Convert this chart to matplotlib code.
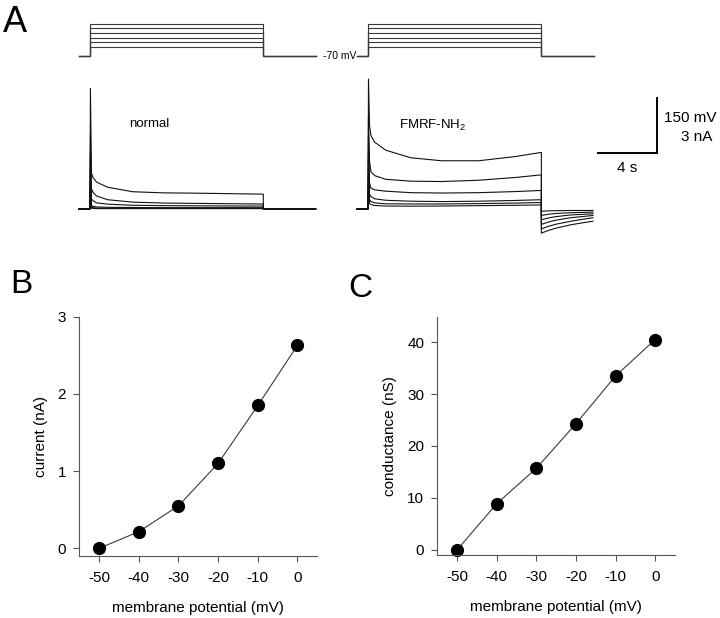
import numpy as np
import matplotlib
matplotlib.use("Agg")
import matplotlib.pyplot as plt

plt.rcParams['font.family'] = ['Liberation Sans', 'DejaVu Sans']
plt.rcParams['mathtext.fontset'] = 'custom'
plt.rcParams['mathtext.rm'] = 'Liberation Sans'
plt.rcParams['mathtext.default'] = 'regular'
plt.rcParams['axes.unicode_minus'] = False

INK, GREY = '#111111', '#3a3a3a'

# --- panel A: voltage protocol (mV) ---
HOLD = -70
STEPS = [-50, -40, -30, -20, -10, 0]
PRE, DUR, POST = 0.75, 11.75, 3.55          # s before / during / after the step
OFFSET_R = 18.85                            # s, where the second recording is drawn

# current traces (nA), sampled during the step
T_STEP = [0, 0.03, 0.1, 0.2, 0.45, 1.2, 2.9, 5.0, 7.5, 10.0, 11.75]
NORMAL = [
    [0, 6.5, 1.94, 1.70, 1.45, 1.17, 0.93, 0.87, 0.85, 0.82, 0.80],
    [0, 4.0, 1.10, 0.90, 0.70, 0.50, 0.37, 0.32, 0.30, 0.28, 0.27],
    [0, 3.0, 0.55, 0.45, 0.33, 0.26, 0.20, 0.18, 0.17, 0.16, 0.16],
    [0, 2.0, 0.20, 0.14, 0.11, 0.09, 0.08, 0.07, 0.07, 0.07, 0.07],
    [0, 1.5, 0.10, 0.07, 0.05, 0.04, 0.04, 0.04, 0.04, 0.04, 0.04],
    [0, 1.0, 0.05, 0.03, 0.02, 0.02, 0.02, 0.02, 0.02, 0.02, 0.02],
]
FMRF = [
    [0, 7.0, 4.50, 3.95, 3.60, 3.17, 2.76, 2.60, 2.60, 2.83, 3.05],
    [0, 5.0, 2.60, 2.00, 1.80, 1.60, 1.50, 1.48, 1.55, 1.70, 1.84],
    [0, 4.0, 1.40, 1.12, 1.03, 0.96, 0.88, 0.86, 0.88, 0.94, 1.00],
    [0, 3.0, 0.80, 0.67, 0.55, 0.47, 0.42, 0.40, 0.42, 0.46, 0.50],
    [0, 2.0, 0.50, 0.40, 0.33, 0.28, 0.27, 0.27, 0.29, 0.32, 0.35],
    [0, 1.5, 0.30, 0.24, 0.19, 0.16, 0.15, 0.16, 0.18, 0.20, 0.22],
]
# tail currents after the step (nA)
T_TAIL = [0, 0.5, 1.0, 2.0, 3.0, 3.5]
FMRF_TAIL = [
    [-1.30, -1.15, -1.03, -0.85, -0.72, -0.66],
    [-1.07, -0.93, -0.82, -0.66, -0.53, -0.47],
    [-0.83, -0.70, -0.60, -0.47, -0.39, -0.35],
    [-0.58, -0.48, -0.41, -0.32, -0.28, -0.26],
    [-0.35, -0.28, -0.24, -0.20, -0.18, -0.17],
    [-0.12, -0.10, -0.09, -0.08, -0.08, -0.08],
]

# --- panels B and C ---
VM = [-50, -40, -30, -20, -10, 0]
CURRENT = [0.0, 0.215, 0.55, 1.10, 1.85, 2.63]
CONDUCT = [0.0, 8.9, 15.7, 24.3, 33.5, 40.5]

fig = plt.figure(figsize=(7.2, 6.18), dpi=100, facecolor='white')
rectA = [0.0833, 0.6117, 0.9167, 0.3803]
axI = fig.add_axes(rectA)
axV = fig.add_axes(rectA)
for a in (axI, axV):
    a.set_xlim(-2.034, 42.71)
    a.axis('off')
axI.set_ylim(-1.67, 11.0)
axV.set_ylim(-460.4, 39.6)

# voltage protocol
for off in (0, OFFSET_R):
    for v in STEPS:
        t = np.array([-PRE, 0, 0, DUR, DUR, DUR + POST]) + off
        axV.plot(t, [HOLD, HOLD, v, v, HOLD, HOLD], color=GREY, lw=0.8)
axV.text(16.95, HOLD, "-70 mV", ha='center', va='center', fontsize=7.5)

# current traces
for tr in NORMAL:
    t = [-PRE] + T_STEP + [DUR, DUR + POST]
    axI.plot(t, [0] + tr + [0, 0], color=INK, lw=0.8)
for tr, tail in zip(FMRF, FMRF_TAIL):
    t = np.array([-PRE] + T_STEP + [DUR + x for x in T_TAIL]) + OFFSET_R
    axI.plot(t, [0] + tr + tail, color=INK, lw=0.8)

axI.text(2.64, 4.58, "normal", ha='left', va='center', fontsize=9.5)
axI.text(20.95, 4.53, "FMRF-NH$_2$", ha='left', va='center', fontsize=9.5)

# scale bar: 4 s / 3 nA (150 mV)
axI.plot([34.44, 38.44, 38.44], [3.0, 3.0, 6.0], color='black', lw=1.4,
         solid_joinstyle='miter')
axI.text(42.5, 4.9, "150 mV", ha='right', va='center', fontsize=11)
axI.text(42.2, 3.88, "3 nA", ha='right', va='center', fontsize=11)
axI.text(36.4, 2.2, "4 s", ha='center', va='center', fontsize=11)


def iv_panel(rect, y, ylim, yticks, ylabel):
    ax = fig.add_axes(rect)
    ax.plot(VM, y, color=GREY, lw=0.8, marker='o', ms=8.5,
            mfc='black', mec='black', clip_on=False)
    ax.set_xlim(-55, 5)
    ax.set_ylim(*ylim)
    ax.set_xticks(VM)
    ax.set_yticks(yticks)
    ax.spines[['top', 'right']].set_visible(False)
    for s in ('left', 'bottom'):
        ax.spines[s].set_color('#555555')
        ax.spines[s].set_linewidth(0.8)
    ax.tick_params(axis='both', length=4.5, width=0.8, color='#555555', labelsize=11)
    ax.tick_params(axis='x', pad=6)
    ax.tick_params(axis='y', pad=5)
    ax.set_xlabel("membrane potential (mV)", fontsize=11, labelpad=12)
    ax.set_ylabel(ylabel, fontsize=11, labelpad=7)
    return ax


iv_panel([0.1101, 0.1003, 0.3306, 0.3872], CURRENT, (-0.1, 3.0), [0, 1, 2, 3], "current (nA)")
iv_panel([0.6074, 0.1019, 0.3301, 0.3856], CONDUCT, (-1.0, 44.9), [0, 10, 20, 30, 40], "conductance (nS)")

fig.text(0.004, 0.948, "A", fontsize=26, va='baseline')
fig.text(0.014, 0.5254, "B", fontsize=24, va='baseline')
fig.text(0.484, 0.5194, "C", fontsize=24, va='baseline')

fig.savefig("out.png", dpi=100, facecolor='white')
